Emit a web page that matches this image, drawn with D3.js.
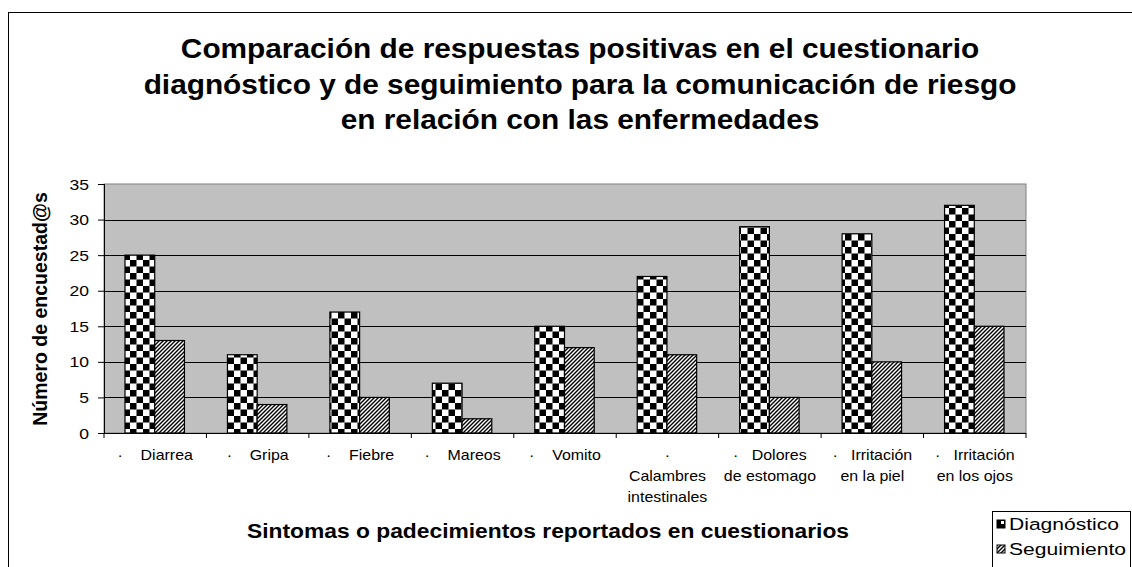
<!DOCTYPE html>
<html>
<head>
<meta charset="utf-8">
<script src="https://cdn.jsdelivr.net/npm/d3@7"></script>
<style>
  body { margin: 0; background: #fff; }
  text { font-family: "Liberation Sans", Arial, sans-serif; fill: #000; }
</style>
</head>
<body>
<script>
const WIDTH = 1132
const HEIGHT = 567

const categories = [
  ['·    Diarrea'],
  ['·    Gripa'],
  ['·    Fiebre'],
  ['·    Mareos'],
  ['·    Vomito'],
  ['·', 'Calambres', 'intestinales'],
  ['·   Dolores', 'de estomago'],
  ['·   Irritación', 'en la piel'],
  ['·   Irritación', 'en los ojos']
]
const diagnostico = [25, 11, 17, 7, 15, 22, 29, 28, 32]
const seguimiento = [13, 4, 5, 2, 12, 11, 5, 10, 15]
const seriesNames = ['Diagnóstico', 'Seguimiento']
const yTicks = [0, 5, 10, 15, 20, 25, 30, 35]
const titleLines = [
  'Comparación de respuestas positivas en el cuestionario',
  'diagnóstico y de seguimiento para la comunicación de riesgo',
  'en relación con las enfermedades'
]

const plot = { left: 104, right: 1026, top: 184, bottom: 433 }
const SX = 1.17 // the small text in the picture is a bit wide

const svg = d3.select('body').append('svg')
  .attr('width', WIDTH)
  .attr('height', HEIGHT)

// patterns
const defs = svg.append('defs')
const checker = defs.append('pattern')
  .attr('id', 'checker')
  .attr('patternUnits', 'userSpaceOnUse')
  .attr('width', 13).attr('height', 13)
checker.append('rect').attr('width', 13).attr('height', 13).attr('fill', '#fff')
checker.append('rect').attr('width', 6.5).attr('height', 6.5).attr('fill', '#000')
checker.append('rect').attr('x', 6.5).attr('y', 6.5).attr('width', 6.5).attr('height', 6.5).attr('fill', '#000')

const hatch = defs.append('pattern')
  .attr('id', 'hatch')
  .attr('patternUnits', 'userSpaceOnUse')
  .attr('width', 4).attr('height', 4)
hatch.append('rect').attr('width', 4).attr('height', 4).attr('fill', '#fff')
hatch.append('path')
  .attr('d', 'M-1,1 l2,-2 M0,4 l4,-4 M3,5 l2,-2')
  .attr('stroke', '#000')
  .attr('stroke-width', 1.4)

const fills = ['url(#checker)', 'url(#hatch)']

// outer frame
svg.append('rect')
  .attr('x', 8.5).attr('y', 12.5)
  .attr('width', 1140).attr('height', 600)
  .attr('fill', 'none')
  .attr('stroke', '#000')

// title
svg.append('g')
  .selectAll('text')
  .data(titleLines)
  .enter()
  .append('text')
  .attr('transform', (d, i) => `translate(580,${58 + i * 35.5}) scale(1.065,1)`)
  .attr('text-anchor', 'middle')
  .attr('font-size', 28)
  .attr('font-weight', 'bold')
  .text(d => d)

// scales
const x = d3.scaleBand()
  .domain(d3.range(categories.length))
  .range([plot.left, plot.right])
const inner = d3.scaleBand()
  .domain([0, 1])
  .range([21, x.bandwidth() - 22])
const y = d3.scaleLinear()
  .domain([0, 35])
  .range([plot.bottom, plot.top])

// plot background
svg.append('rect')
  .attr('x', plot.left).attr('y', plot.top)
  .attr('width', plot.right - plot.left)
  .attr('height', plot.bottom - plot.top)
  .attr('fill', '#c0c0c0')
  .attr('stroke', '#808080')

// gridlines
svg.append('g')
  .selectAll('line')
  .data(yTicks.filter(t => t > 0 && t < 35))
  .enter()
  .append('line')
  .attr('x1', plot.left).attr('x2', plot.right)
  .attr('y1', d => Math.round(y(d)) + 0.5)
  .attr('y2', d => Math.round(y(d)) + 0.5)
  .attr('stroke', '#000')

// bars
const series = [diagnostico, seguimiento]
series.forEach((vals, s) => {
  svg.append('g')
    .selectAll('rect')
    .data(vals)
    .enter()
    .append('rect')
    .attr('x', (d, i) => x(i) + inner(s))
    .attr('y', d => y(d))
    .attr('width', inner.bandwidth())
    .attr('height', d => y(0) - y(d))
    .attr('fill', fills[s])
    .attr('stroke', '#000')
    .attr('stroke-width', 1.2)
})

// y axis
const yAxis = svg.append('g')
  .attr('transform', `translate(${plot.left},0)`)
  .call(d3.axisLeft(y).tickValues(yTicks).tickSize(6).tickFormat(''))
yAxis.select('.domain').attr('stroke', '#000').attr('d', `M0.5,${plot.top}V${plot.bottom}`)

svg.append('g')
  .selectAll('text')
  .data(yTicks)
  .enter()
  .append('text')
  .attr('transform', d => `translate(89,${y(d) + 5.5}) scale(${SX},1)`)
  .attr('text-anchor', 'end')
  .attr('font-size', 15)
  .text(d => d)

// x axis
const xAxis = svg.append('g')
  .attr('transform', `translate(0,${plot.bottom})`)
xAxis.append('line')
  .attr('x1', plot.left).attr('x2', plot.right)
  .attr('y1', 0.5).attr('y2', 0.5)
  .attr('stroke', '#000')
xAxis.selectAll('line.tick')
  .data(d3.range(categories.length + 1))
  .enter()
  .append('line')
  .attr('class', 'tick')
  .attr('x1', d => d < categories.length ? x(d) : plot.right)
  .attr('x2', d => d < categories.length ? x(d) : plot.right)
  .attr('y1', 0).attr('y2', 5)
  .attr('stroke', '#000')

const labels = svg.append('g')
  .selectAll('g')
  .data(categories)
  .enter()
  .append('g')
labels.selectAll('text')
  .data((d, i) => d.map(line => ({ line, i })))
  .enter()
  .append('text')
  .attr('transform', (d, j) => `translate(${x(d.i) + x.bandwidth() / 2},${460 + j * 21}) scale(1.14,1)`)
  .attr('text-anchor', 'middle')
  .attr('font-size', 14)
  .attr('xml:space', 'preserve')
  .style('white-space', 'pre')
  .text(d => d.line)

// axis titles
svg.append('text')
  .attr('transform', 'translate(47,309) rotate(-90)')
  .attr('text-anchor', 'middle')
  .attr('font-size', 19.5)
  .attr('font-weight', 'bold')
  .text('Número de encuestad@s')

svg.append('text')
  .attr('transform', `translate(548,538) scale(${SX},1)`)
  .attr('text-anchor', 'middle')
  .attr('font-size', 19.5)
  .attr('font-weight', 'bold')
  .text('Sintomas o padecimientos reportados en cuestionarios')

// legend
const legend = svg.append('g')
legend.append('rect')
  .attr('x', 992.5).attr('y', 511.5)
  .attr('width', 138).attr('height', 70)
  .attr('fill', '#fff')
  .attr('stroke', '#000')
const items = legend.selectAll('g.item')
  .data(seriesNames)
  .enter()
  .append('g')
  .attr('class', 'item')
  .attr('transform', (d, i) => `translate(997,${520 + i * 25})`)
items.append('rect')
  .attr('width', 8).attr('height', 8)
  .attr('fill', (d, i) => i === 0 ? '#000' : fills[1])
  .attr('stroke', '#000')
items.filter((d, i) => i === 0).append('rect')
  .attr('x', 4).attr('y', 1).attr('width', 3).attr('height', 3)
  .attr('fill', '#fff')
items.append('text')
  .attr('transform', 'translate(12,10) scale(1.24,1)')
  .attr('font-size', 17)
  .text(d => d)
</script>
</body>
</html>
